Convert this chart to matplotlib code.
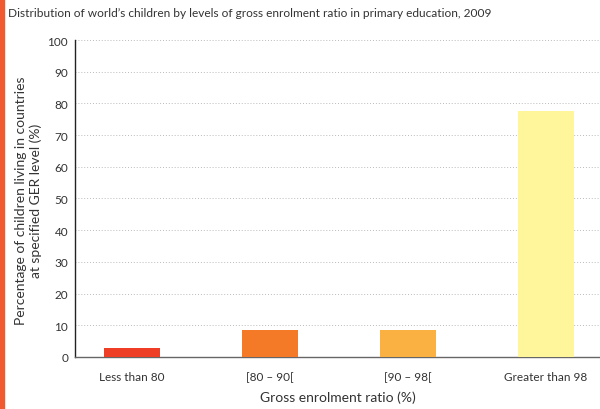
import matplotlib
matplotlib.use("Agg")
import matplotlib.pyplot as plt
from matplotlib.patches import Rectangle

categories = ["Less than 80", "[80 – 90[", "[90 – 98[", "Greater than 98"]
values = [2.8, 8.5, 8.5, 77.6]
colors = ["#EE3F26", "#F47A27", "#FBB042", "#FFF59B"]
yticks = list(range(0, 101, 10))

plt.rcParams["font.family"] = ["Lato", "DejaVu Sans"]

fig = plt.figure(figsize=(6, 4.1), dpi=100)
ax = fig.add_axes([0.125, 0.127, 0.875, 0.773])

x = range(len(categories))
ax.bar(x, values, width=0.406, color=colors, zorder=3)

ax.set_xlim(-0.413, 3.391)
ax.set_ylim(0, 100)
ax.set_yticks(yticks)
ax.set_xticks(list(x))
ax.set_xticklabels(categories, fontsize=8.5, color="#333333")
ax.tick_params(axis="y", labelsize=8.5, colors="#333333", length=0, pad=5)
ax.tick_params(axis="x", length=0, pad=10)

ax.grid(axis="y", linestyle=(0, (1, 2)), color="#bbbbbb", linewidth=0.7, zorder=0)
for s in ["top", "right"]:
    ax.spines[s].set_visible(False)
ax.spines["left"].set_color("#222222")
ax.spines["left"].set_linewidth(1.0)
ax.spines["bottom"].set_color("#666666")
ax.spines["bottom"].set_linewidth(1.0)

ax.set_xlabel("Gross enrolment ratio (%)", fontsize=10, color="#333333", labelpad=6)

# y label placed by hand so the two lines sit like the original
fig.text(0.048, 0.51, "Percentage of children living in countries\nat specified GER level (%)",
         fontsize=10, color="#333333", rotation=90, ha="center", va="center",
         multialignment="center", linespacing=1.25)

fig.text(0.013, 0.968, "Distribution of world’s children by levels of gross enrolment ratio in primary education, 2009",
         fontsize=8.6, color="#333333", va="center", ha="left")

fig.patches.append(Rectangle((0, 0), 0.006, 1, transform=fig.transFigure,
                             color="#F15A30", zorder=5))

fig.savefig("out.png", dpi=100)
